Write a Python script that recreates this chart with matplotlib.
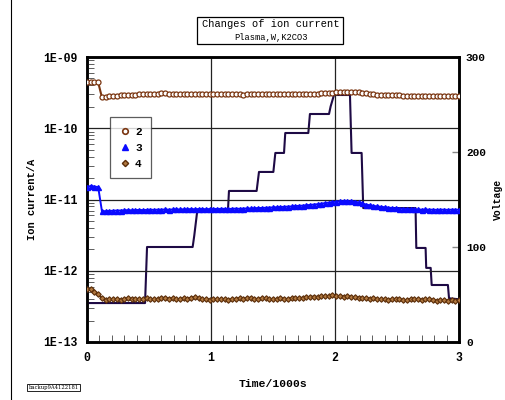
import numpy as np
import matplotlib
matplotlib.use("Agg")
import matplotlib.pyplot as plt
from matplotlib.ticker import LogLocator, MultipleLocator, NullFormatter
from matplotlib.lines import Line2D

# time axis, in 1000 s
time = np.linspace(0, 3, 101)

# ion current of mass 2 (x1e-10 A)
ion2 = [4.45, 4.5, 4.48, 4.4, 2.72, 2.75, 2.8, 2.85, 2.88, 2.9,
        2.93, 2.95, 2.97, 2.96, 2.98, 3.0, 2.99, 3.0, 3.02, 3.04,
        3.08, 3.1, 3.06, 3.02, 3.0, 2.99,
        3.0, 2.99, 3.01, 3.0, 2.98, 3.0, 3.01, 2.99, 3.0, 3.0,
        2.98, 2.99, 3.0, 3.01, 3.0, 2.99, 2.97, 2.98, 3.0, 3.0,
        3.01, 3.0, 2.99, 3.0, 3.01, 3.0, 2.99, 3.0, 3.02, 3.01,
        3.0, 3.02, 3.03, 3.04,
        3.04, 3.05, 3.06, 3.08, 3.1, 3.13, 3.17, 3.21, 3.24, 3.26,
        3.26, 3.25, 3.22, 3.18, 3.13, 3.08,
        3.04, 3.0, 2.97, 2.95, 2.93, 2.92, 2.9, 2.9, 2.89, 2.88,
        2.87, 2.86, 2.86, 2.85, 2.84, 2.85, 2.84, 2.83, 2.84, 2.85,
        2.84, 2.84, 2.85, 2.84, 2.84]

# ion current of mass 3 (x1e-12 A)
ion3 = [15.0, 15.5, 15.2, 14.9, 6.9,
        6.85, 6.9, 6.95, 7.0, 7.0, 7.05, 7.1, 7.05, 7.1, 7.15,
        7.1, 7.15, 7.2, 7.15, 7.2,
        7.2, 7.25, 7.2, 7.25, 7.3, 7.25, 7.3, 7.3, 7.35, 7.3,
        7.35, 7.35, 7.3, 7.35, 7.4, 7.35, 7.4, 7.4, 7.35, 7.4,
        7.45, 7.4, 7.45, 7.5, 7.5, 7.55, 7.6, 7.6, 7.65, 7.7,
        7.75, 7.8, 7.85, 7.9, 7.95, 8.0, 8.1, 8.15, 8.2, 8.3,
        8.4, 8.5, 8.6, 8.75, 8.9, 9.05, 9.2, 9.35, 9.45, 9.5,
        9.5, 9.45, 9.35, 9.1, 8.8, 8.5,
        8.3, 8.15, 8.0, 7.9, 7.8, 7.7, 7.6, 7.5, 7.45, 7.4,
        7.35, 7.3, 7.3, 7.25, 7.2, 7.25, 7.2, 7.2, 7.15, 7.2,
        7.2, 7.15, 7.2, 7.2, 7.2]

# ion current of mass 4 (x1e-13 A)
ion4 = [5.6, 5.5, 5.1, 4.7, 4.1,
        3.9, 4.0, 3.95, 4.05, 3.9, 4.0, 4.1, 3.95, 4.0, 4.05,
        3.95, 4.1, 4.0, 3.95, 4.05,
        4.15, 4.2, 4.05, 4.1, 4.0, 3.95, 4.1, 4.05, 4.2, 4.25,
        4.1, 4.0, 3.95, 3.9, 4.0, 3.95, 4.05, 4.0, 3.9, 4.0,
        4.05, 4.1, 4.0, 4.15, 4.2, 4.05, 4.0, 4.1, 4.15, 4.05,
        3.95, 4.0, 4.1, 4.05, 4.0, 4.1, 4.15, 4.1, 4.2, 4.25,
        4.3, 4.35, 4.3, 4.4, 4.45, 4.4, 4.5, 4.45, 4.4, 4.35,
        4.4, 4.3, 4.25, 4.2, 4.1, 4.15,
        4.05, 4.1, 4.0, 3.95, 4.05, 3.9, 4.0, 4.05, 3.95, 3.85,
        3.9, 4.0, 3.95, 4.05, 3.9, 3.95, 4.0, 3.85, 3.8, 3.85,
        3.9, 3.8, 3.85, 3.8, 3.85]

# voltage program (corner points)
volt_t = [0, 0.468, 0.484, 0.852, 0.865, 0.89, 1.137, 1.145, 1.368, 1.387,
          1.503, 1.519, 1.589, 1.599, 1.785, 1.798, 1.952, 1.965, 1.992,
          2.121, 2.134, 2.215, 2.228, 2.65, 2.656, 2.731, 2.736, 2.772,
          2.78, 2.911, 2.92, 3.0]
volt_v = [41, 41, 100, 100, 112, 139, 139, 159, 159, 179,
          179, 199, 199, 220, 220, 240, 240, 248, 260,
          260, 199, 199, 141, 141, 99, 99, 78, 78,
          60, 60, 46, 45]

series_names = ["2", "3", "4"]

mono = "Liberation Mono"

fig = plt.figure(figsize=(5.06, 4.0), dpi=100)
ax = fig.add_axes([0.172, 0.145, 0.735, 0.7125])

c2 = "#7a3510"
c3 = "#0a0aff"
c4 = "#5a2c08"

ax.plot(time, np.array(ion2) * 1e-10, color=c2, lw=1.5, marker="o", ms=3.6,
        mfc="white", mec=c2, mew=0.9, zorder=4)
ax.plot(time, np.array(ion3) * 1e-12, color=c3, lw=1.4, marker="^", ms=3.6,
        mfc=c3, mec=c3, zorder=4)
ax.plot(time, np.array(ion4) * 1e-13, color=c4, lw=1.4, marker="D", ms=2.8,
        mfc="#b07840", mec=c4, mew=0.8, zorder=4)

ax.set_yscale("log")
ax.set_ylim(1e-13, 1e-9)
ax.set_xlim(0, 3)
ax.yaxis.set_minor_locator(LogLocator(base=10, subs=np.arange(2, 10), numticks=10))
ax.yaxis.set_minor_formatter(NullFormatter())
ax.set_yticks([1e-13, 1e-12, 1e-11, 1e-10, 1e-9])
ax.set_yticklabels(["1E-13", "1E-12", "1E-11", "1E-10", "1E-09"])
ax.xaxis.set_major_locator(MultipleLocator(1))
ax.xaxis.set_minor_locator(MultipleLocator(0.1))
ax.grid(True, which="major", color="#222222", lw=0.9)

ax.tick_params(axis="both", which="major", direction="in", length=0,
               labelsize=8.3, pad=7)
ax.tick_params(axis="both", which="minor", direction="in", length=5, width=0.6,
               color="#444444")
for lab in ax.get_xticklabels() + ax.get_yticklabels():
    lab.set_family(mono)
    lab.set_fontweight("bold")
for sp in ax.spines.values():
    sp.set_linewidth(1.8)

ax.set_xlabel("Time/1000s", family=mono, fontweight="bold", fontsize=8.2, labelpad=11)
ax.set_ylabel("Ion current/A", family=mono, fontweight="bold", fontsize=7.5, labelpad=4)

ax2 = ax.twinx()
ax2.plot(volt_t, volt_v, color="#1e0a45", lw=1.5, zorder=3)
ax2.set_ylim(0, 300)
ax2.set_yticks([0, 100, 200, 300])
ax2.tick_params(axis="y", direction="in", length=5, width=1, color="#888888",
                labelsize=8, pad=5)
for lab in ax2.get_yticklabels():
    lab.set_family(mono)
    lab.set_fontweight("bold")
ax2.set_ylabel("Voltage", family=mono, fontweight="bold", fontsize=7, labelpad=5)
for sp in ax2.spines.values():
    sp.set_linewidth(1.8)
ax.set_zorder(ax2.get_zorder() + 1)
ax.patch.set_visible(False)

handles = [
    Line2D([], [], ls="none", marker="o", ms=4, mfc="white", mec=c2, mew=1.2),
    Line2D([], [], ls="none", marker="^", ms=4, mfc=c3, mec=c3),
    Line2D([], [], ls="none", marker="D", ms=3.2, mfc="#b07840", mec=c4),
]
leg = ax.legend(handles, series_names, loc="upper left",
                bbox_to_anchor=(0.062, 0.789), borderaxespad=0,
                frameon=True, fancybox=False,
                handlelength=1.0, handletextpad=0.4, borderpad=0.85,
                labelspacing=0.55, prop={"family": mono, "weight": "bold", "size": 8})
leg.get_frame().set_edgecolor("#333333")
leg.get_frame().set_linewidth(0.9)
leg._legend_box.align = "left"
leg._legend_box.sep = 0

fig.text(0.535, 1 - 24 / 400, "Changes of ion current", ha="center", va="center",
         family=mono, fontsize=7.5)
fig.text(0.535, 1 - 37 / 400, "Plasma,W,K2CO3", ha="center", va="center",
         family=mono, fontsize=6.3)
box = plt.Rectangle((197 / 506, 1 - 44 / 400), 146 / 506, 27 / 400,
                    transform=fig.transFigure, fill=False, lw=0.9,
                    edgecolor="black")
fig.patches.append(box)

fig.lines.append(Line2D([11 / 506, 11 / 506], [0, 1], transform=fig.transFigure,
                        color="black", lw=0.8))
fig.text(0.056, 0.031, "backup9A4122181", family="DejaVu Serif", fontsize=3.8,
         va="center", ha="left",
         bbox=dict(facecolor="white", edgecolor="black", lw=0.6, pad=0.8))

fig.savefig("out.png", dpi=100)
